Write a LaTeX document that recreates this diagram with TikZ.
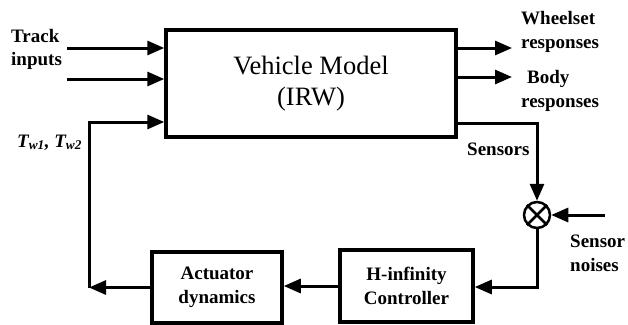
\documentclass[tikz,border=0pt]{standalone}
\usepackage{fontspec}
\setmainfont{Liberation Serif}
\usetikzlibrary{arrows.meta,calc}
\begin{document}
\begin{tikzpicture}[x=1pt,y=-1pt,
  blk/.style={draw,line width=3.5pt,inner sep=0pt,align=center},
  conn/.style={line width=3pt},
  arr/.style={conn,-{Triangle[length=17pt,width=14pt]}},
  lbl/.style={inner sep=0pt,align=left,font=\fontsize{19}{23.5}\selectfont\bfseries},
  big/.style={font=\fontsize{26.5}{31}\selectfont}]
\useasboundingbox (0,0) rectangle (628,324);
% blocks
\node[blk,big,minimum width=290pt,minimum height=107pt] (vm) at (311,83.5) {Vehicle Model\\(IRW)};
\node[blk,lbl,align=center,minimum width=130pt,minimum height=71pt] (act) at (217,287.5) {Actuator\\dynamics};
\node[blk,lbl,align=center,minimum width=133pt,minimum height=72pt] (hinf) at (406.5,286) {H-infinity\\Controller};
\node[draw,circle,line width=2.5pt,minimum size=26pt,inner sep=0pt] (sum) at (537,215) {};
\draw[line width=2.5pt] (sum.north east) -- (sum.south west) (sum.north west) -- (sum.south east);
% labels (base = last line)
\node[lbl,anchor=base west] (ltrack) at (11,65.5) {Track\\inputs};
\node[lbl,anchor=base west] (ltw) at (17,147) {\itshape T\textsubscript{w1}, T\textsubscript{w2}};
\node[lbl,anchor=base west] (lwheel) at (521,48) {Wheelset\\responses};
\node[lbl,anchor=base west] (lbody) at (521,107) {\hspace*{6pt}Body\\responses};
\node[lbl,anchor=base west] (lsens) at (467,155) {Sensors};
\node[lbl,anchor=base west] (lnoise) at (570,271) {Sensor\\noises};
% coordinates
\coordinate (t1) at (67,48);
\coordinate (t2) at (67,79);
\coordinate (o1) at (512,48);
\coordinate (o2) at (512,77);
\coordinate (fb) at (89,122);
\coordinate (sn) at (537,123);
\coordinate (nz) at (605,215);
\coordinate (cl) at (537,287);
% connectors
\draw[arr] (t1) -- (t1 -| vm.west);
\draw[arr] (t2) -- (t2 -| vm.west);
\draw[arr] (o1 -| vm.east) -- (o1);
\draw[arr] (o2 -| vm.east) -- (o2);
\draw[arr] (act.west) -- (act.west -| fb);
\draw[arr] (act.west -| fb) -- (fb) -- (fb -| vm.west);
\draw[arr] (sn -| vm.east) -- (sn) -- (sum.north);
\draw[arr] (nz) -- (sum.east);
\draw[arr] (sum.south) -- (cl) -- (cl -| hinf.east);
\draw[arr] (hinf.west) -- (hinf.west -| act.east);
\end{tikzpicture}
\end{document}
